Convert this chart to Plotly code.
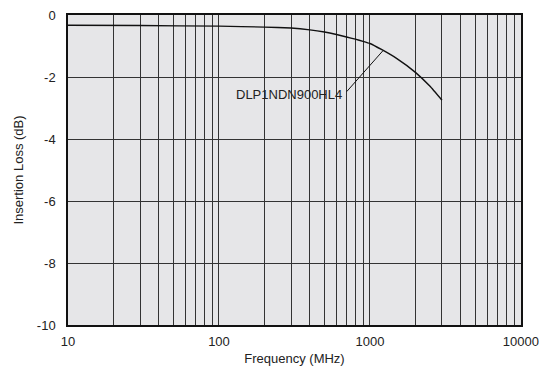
import math
import plotly.graph_objects as go

# insertion loss curve
freq_mhz = [10, 30, 100, 200, 300, 400, 500, 600, 700, 800, 900, 1000,
            1200, 1500, 2000, 2500, 3000]
loss_db = [-0.33, -0.34, -0.36, -0.39, -0.42, -0.48, -0.55, -0.63, -0.71,
           -0.78, -0.85, -0.92, -1.12, -1.40, -1.85, -2.30, -2.75]

part_name = "DLP1NDN900HL4"
label_freq, label_loss = 1220, -1.15  # point on the curve the leader line touches

x_major = [10, 100, 1000, 10000]
x_minor = [m * d for d in (10, 100, 1000) for m in range(2, 10)]
y_ticks = [0, -2, -4, -6, -8, -10]

_FONT = dict(family="Liberation Sans, Arial, sans-serif", size=13, color="#222")
_GRID = "#333"

fig = go.Figure()
fig.add_trace(go.Scatter(
    x=freq_mhz, y=loss_db, mode="lines",
    line=dict(color="#111", width=1.4, shape="spline", smoothing=0.3),
    hoverinfo="skip", showlegend=False,
))

fig.add_annotation(
    x=math.log10(label_freq), y=label_loss,
    xref="x", yref="y", text=part_name, font=_FONT,
    showarrow=True, arrowhead=0, arrowwidth=1, arrowcolor="#111",
    ax=-39, ay=44, xanchor="right", yanchor="middle", startstandoff=4,
)

fig.update_layout(
    width=539, height=367,
    margin=dict(l=68, r=18, t=15, b=42),
    paper_bgcolor="white", plot_bgcolor="#e6e6e8",
    font=_FONT, showlegend=False,
    xaxis=dict(
        type="log", range=[1, 4.0005], automargin=False,
        tickvals=x_major, ticktext=[str(v) for v in x_major],
        showgrid=True, gridcolor=_GRID, gridwidth=1,
        minor=dict(tickvals=x_minor, showgrid=True, gridcolor=_GRID, gridwidth=1),
        showline=True, linecolor="#111", linewidth=1.5, mirror=True,
        ticks="", ticklabelstandoff=4, zeroline=False,
        title=dict(text="Frequency (MHz)", standoff=6, font=_FONT),
    ),
    yaxis=dict(
        range=[-10, 0], automargin=False,
        tickvals=y_ticks, ticktext=[str(v) for v in y_ticks],
        showgrid=True, gridcolor=_GRID, gridwidth=1,
        showline=True, linecolor="#111", linewidth=1.5, mirror=True,
        ticks="", ticklabelstandoff=8, zeroline=False,
        title=dict(text="Insertion Loss (dB)", standoff=10, font=_FONT),
    ),
)

# the page's default body margin would push the fixed-size figure off the window
fig.write_html("out.html", config={"displayModeBar": False},
               post_script="document.body.style.margin = '0';")
